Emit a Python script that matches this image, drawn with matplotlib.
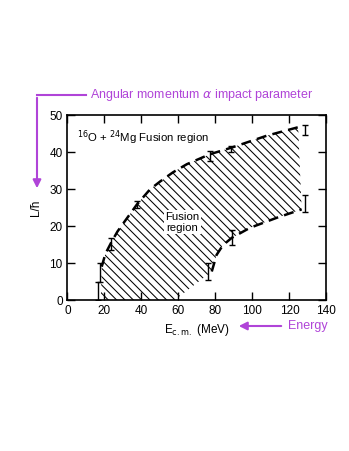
import matplotlib.pyplot as plt

plt.rcParams['font.family'] = ['Liberation Sans', 'DejaVu Sans']
plt.rcParams['hatch.linewidth'] = 0.75

# upper boundary of the fusion region (dashed)
upper_x = [18.5, 20.5, 23.6, 27, 31, 37.5, 44.6, 50, 57, 64.5, 77, 88.8, 107.7, 124.7]
upper_y = [9, 12.5, 15.5, 18.5, 21.3, 25.8, 29.9, 32, 34.5, 36.7, 39.4, 41.2, 44.4, 46.7]

# lower boundary (dashed)
lower_x = [78, 80.6, 84, 88.8, 98.6, 113, 126.6]
lower_y = [7.7, 12.2, 14.8, 16.8, 19.5, 22.2, 24.5]

# error bars: x, low, high
err_x = [16.7, 17.6, 23.6, 37.4, 77, 88.6, 128.4, 76, 88.8, 128.4]
err_lo = [0, 5, 13.6, 24.9, 37.6, 39.9, 44.5, 5.4, 14.9, 23.9]
err_hi = [5, 10, 16.8, 26.7, 40.3, 41.7, 47.2, 9.9, 18.9, 28.4]

purple = '#b044d8'

fig = plt.figure(figsize=(3.49, 4.51), dpi=100)
ax = fig.add_axes([0.1934, 0.3348, 0.742, 0.4102])

# hatched region
poly_x = [18] + upper_x + lower_x[::-1] + [58]
poly_y = [0] + upper_y + lower_y[::-1] + [0]
ax.fill(poly_x, poly_y, facecolor='none', edgecolor='black', hatch='\\\\\\\\', linewidth=0)

ax.plot(upper_x, upper_y, color='black', lw=1.8, ls=(0, (4, 2.5)))
ax.plot(lower_x, lower_y, color='black', lw=1.8, ls=(0, (4, 2.5)))

for x, lo, hi in zip(err_x, err_lo, err_hi):
    ax.errorbar([x], [(lo + hi) / 2], yerr=[[(hi - lo) / 2], [(hi - lo) / 2]],
                fmt='none', ecolor='black', elinewidth=1.0, capsize=2.5, capthick=1.0)

ax.set_xlim(0, 140)
ax.set_ylim(0, 50)
ax.set_xticks(range(0, 141, 20))
ax.set_yticks(range(0, 51, 10))
ax.tick_params(direction='in', length=6, width=1, top=True, right=True, labelsize=8.5)
for s in ax.spines.values():
    s.set_linewidth(1.2)

ax.text(5, 42.7, r'$^{16}$O + $^{24}$Mg Fusion region', fontsize=8.2)
ax.text(62, 21, 'Fusion\nregion', fontsize=8.2, ha='center', va='center',
        bbox=dict(facecolor='white', edgecolor='none', pad=1))

ax.set_xlabel(r'E$_{\rm c.m.}$ (MeV)', fontsize=8.5, labelpad=4)
ax.set_ylabel('L/ħ', fontsize=8.5, labelpad=5)

# purple annotations
fig.text(90 / 349, 1 - 95 / 451, r'Angular momentum $\alpha$ impact parameter',
         color=purple, fontsize=9, va='center')
fig.add_artist(plt.Line2D([37 / 349, 86 / 349], [1 - 95 / 451, 1 - 95 / 451],
                          color=purple, lw=1.5))
ax.annotate('', xy=(37 / 349, 1 - 191 / 451), xytext=(37 / 349, 1 - 95 / 451),
            xycoords='figure fraction', textcoords='figure fraction',
            arrowprops=dict(arrowstyle='-|>', color=purple, lw=1.5, mutation_scale=12),
            annotation_clip=False)

fig.text(288 / 349, 1 - 326 / 451, 'Energy', color=purple, fontsize=9, va='center')
ax.annotate('', xy=(236 / 349, 1 - 326 / 451), xytext=(284 / 349, 1 - 326 / 451),
            xycoords='figure fraction', textcoords='figure fraction',
            arrowprops=dict(arrowstyle='-|>', color=purple, lw=1.5, mutation_scale=12),
            annotation_clip=False)

fig.savefig('out.png', dpi=100)
